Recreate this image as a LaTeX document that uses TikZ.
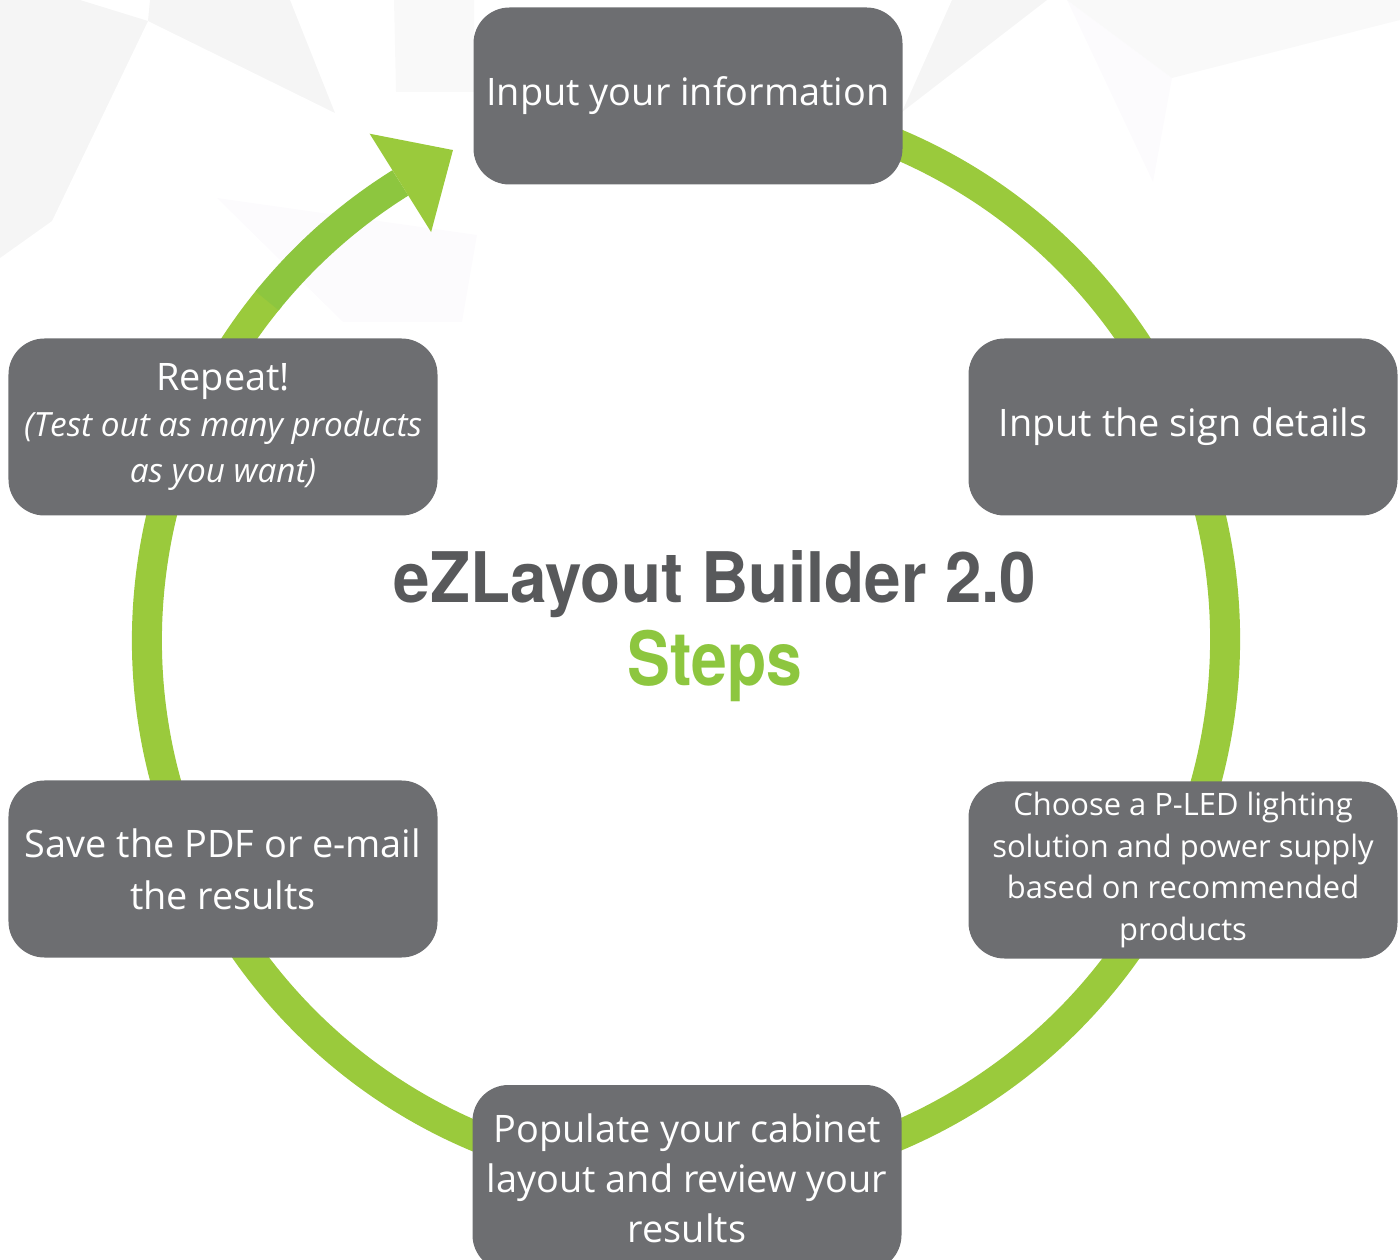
\documentclass[tikz,border=0pt]{standalone}
\usepackage{fontspec}
\setmainfont{Open Sans}
\newfontfamily\headfont{TeX Gyre Heros}
\usetikzlibrary{calc}
\definecolor{boxgray}{HTML}{6D6E71}
\definecolor{ringgreen}{HTML}{9ACA3C}
\definecolor{ringdark}{HTML}{8DC63F}
\definecolor{titlegray}{HTML}{58595B}
\definecolor{facetgray}{HTML}{F5F5F5}
\definecolor{facetlight}{HTML}{F9F9F9}
\definecolor{facetlilac}{HTML}{FCFBFD}

\begin{document}
\begin{tikzpicture}
[x=1bp,y=1bp,
stepbox/.style={rectangle,rounded corners=36bp,fill=boxgray,text=white,minimum width=429bp,minimum height=177bp,align=center,inner sep=0pt,font=\fontsize{38}{50}\selectfont}]
\useasboundingbox (0,0) rectangle (1400,1259);
% faint facets in the background
\fill[facetgray] (0,1259) -- (80,1259) -- (148,1238) -- (52,1038) -- (0,1001) -- cycle;
\fill[facetgray] (150,1259) -- (290,1259) -- (335,1146) -- (148,1238) -- cycle;
\fill[facetlight] (394,1259) -- (474,1259) -- (474,1167) -- (396,1167) -- cycle;
\fill[facetlilac] (217,1061) -- (477,1024) -- (462,937) -- (343,937) -- cycle;
\fill[facetgray] (952,1259) -- (1047,1259) -- (902,1147) -- cycle;
\fill[facetlilac] (1067,1259) -- (1172,1181) -- (1153,1077) -- cycle;
\fill[facetlight] (1067,1259) -- (1400,1259) -- (1400,1239) -- (1172,1181) -- cycle;
% ring with arrow
\coordinate (c) at (686,619);
\draw[ringgreen,line width=30bp] ([shift={(80:539)}]c) arc[start angle=80,end angle=-219.5,radius=539];
\draw[ringdark,line width=30bp] ([shift={(141:539)}]c) arc[start angle=141,end angle=122,radius=539];
\fill[ringgreen] ($(c)+(122:597)$) -- ($(c)+(122:539)+(32:62)$) -- ($(c)+(122:481)$) -- cycle;
% steps
\node[stepbox] (s1) at (688,1163) {Input your information};
\node[stepbox] (s2) at (1183,832) {Input the sign details};
\node[stepbox,font=\fontsize{31}{42}\selectfont] (s3) at (1183,389) {Choose a P-LED lighting\\solution and power supply\\based on recommended\\products};
\node[stepbox,minimum height=186bp] (s4) at (687,81) {Populate your cabinet\\layout and review your\\results};
\node[stepbox,font=\fontsize{38}{52}\selectfont] (s5) at (223,390) {Save the PDF or e-mail\\the results};
\node[stepbox,font=\fontsize{38}{46}\selectfont] (s6) at (223,832) {Repeat!\\{\itshape\fontsize{33.5}{46}\selectfont (Test out as many products}\\{\itshape\fontsize{33.5}{46}\selectfont as you want)}};
% title
\node[anchor=base,font=\headfont\bfseries\fontsize{70}{70}\selectfont,text=titlegray,xscale=0.94] (title) at (715,656) {eZLayout Builder 2.0};
\node[anchor=base,font=\headfont\bfseries\fontsize{75}{75}\selectfont,text=ringdark,xscale=0.86] (steps) at (715,573) {Steps};
\end{tikzpicture}
\end{document}
